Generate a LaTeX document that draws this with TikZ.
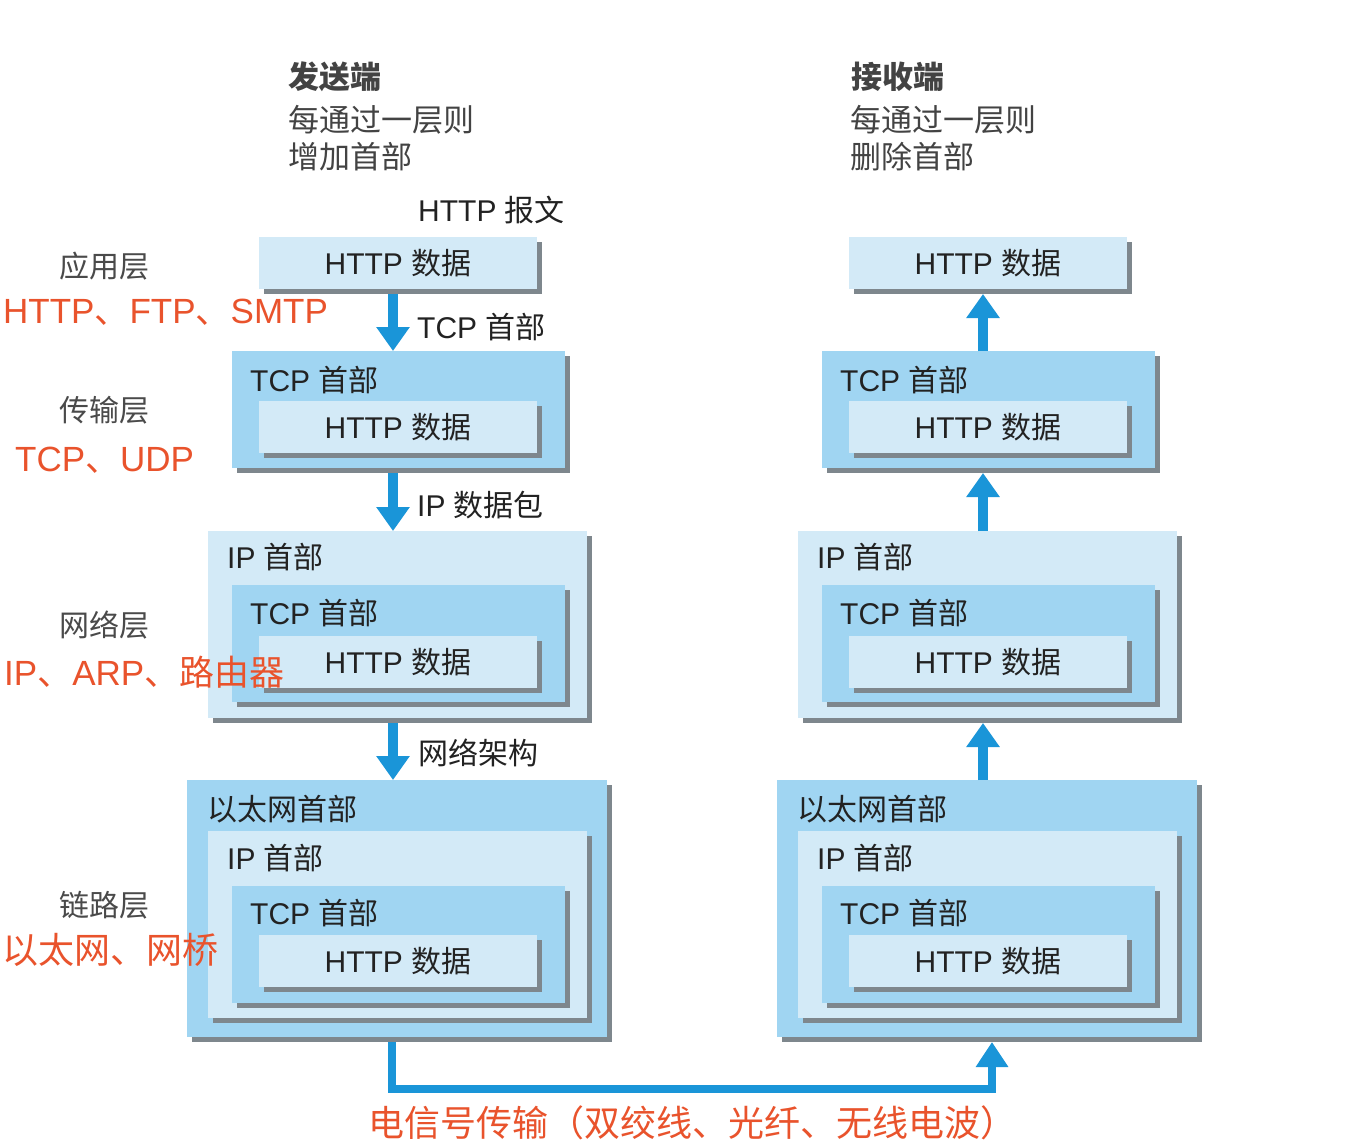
\documentclass[tikz,border=0pt]{standalone}
\usepackage{fontspec}
\setmainfont{Liberation Sans}
\newfontfamily\cjkf{Noto Sans CJK SC}
\newcommand\zh[1]{{\cjkf #1}}
\usetikzlibrary{shadows,arrows.meta}
\definecolor{lblue}{HTML}{D3EAF7}
\definecolor{mblue}{HTML}{A0D5F2}
\definecolor{shgray}{HTML}{7E878D}
\definecolor{ablue}{HTML}{1A95D8}
\definecolor{redtxt}{HTML}{E9532C}
\definecolor{txt}{HTML}{222222}
\definecolor{graytxt}{HTML}{4A4A4A}
\begin{document}
\begin{tikzpicture}[x=1pt,y=-1pt,
  box/.style={draw=none, inner sep=0pt, outer sep=0pt, anchor=north west,
    general shadow={shadow xshift=5pt, shadow yshift=-5pt, fill=shgray}},
  httpbox/.style={box, fill=lblue, minimum width=278pt, minimum height=52pt},
  tcpbox/.style={box, fill=mblue, minimum width=333pt, minimum height=117pt},
  ipbox/.style={box, fill=lblue, minimum width=379pt, minimum height=187pt},
  ethbox/.style={box, fill=mblue, minimum width=420pt, minimum height=257pt},
  boxtxt/.style={inner sep=0pt, text=txt, font=\fontsize{30}{36}\selectfont},
  hdrtxt/.style={boxtxt, anchor=west},
  note/.style={inner sep=0pt, anchor=west, text=txt, font=\fontsize{30}{36}\selectfont},
  top/.style={inner sep=0pt, anchor=west, text=txt!85, font=\fontsize{31}{37}\selectfont},
  layer/.style={inner sep=0pt, text=graytxt, font=\fontsize{30}{36}\selectfont},
  proto/.style={inner sep=0pt, anchor=west, text=redtxt, font=\fontsize{35}{42}\selectfont},
  flow/.style={draw=ablue, line width=10pt, -{Triangle[width=32pt,length=24pt]}},
  link/.style={draw=ablue, line width=8pt, line join=miter, -{Triangle[width=31pt,length=25pt]}}
]
\useasboundingbox[fill=white] (0,0) rectangle (1366,1148);

% header texts
\node[top] (sendT) at (288,77) {\zh{\bfseries 发送端}};
\node[top] (send1) at (288,120) {\zh{每通过一层则}};
\node[top] (send2) at (288,157) {\zh{增加首部}};
\node[top] (recvT) at (851,77) {\zh{\bfseries 接收端}};
\node[top] (recv1) at (850,120) {\zh{每通过一层则}};
\node[top] (recv2) at (850,157) {\zh{删除首部}};
\node[note] (msg) at (418,210) {HTTP \zh{报文}};

% boxes, both columns
\foreach \s/\dx in {l/0,r/590}{
  % application
  \node[httpbox] (\s H1) at (259+\dx,237) {};
  \node[boxtxt] (\s H1t) at (\s H1) {HTTP \zh{数据}};
  % transport
  \node[tcpbox] (\s T2) at (232+\dx,351) {};
  \node[hdrtxt] (\s T2t) at ([shift={(18,29)}]\s T2.north west) {TCP \zh{首部}};
  \node[httpbox] (\s T2h) at ([shift={(27,50)}]\s T2.north west) {};
  \node[boxtxt] (\s T2ht) at (\s T2h) {HTTP \zh{数据}};
  % network
  \node[ipbox] (\s I3) at (208+\dx,531) {};
  \node[hdrtxt] (\s I3t) at ([shift={(19,26)}]\s I3.north west) {IP \zh{首部}};
  \node[tcpbox] (\s I3c) at ([shift={(24,54)}]\s I3.north west) {};
  \node[hdrtxt] (\s I3ct) at ([shift={(18,28)}]\s I3c.north west) {TCP \zh{首部}};
  \node[httpbox] (\s I3h) at ([shift={(27,51)}]\s I3c.north west) {};
  \node[boxtxt] (\s I3ht) at (\s I3h) {HTTP \zh{数据}};
  % link
  \node[ethbox] (\s E4) at (187+\dx,780) {};
  \node[hdrtxt] (\s E4t) at ([shift={(20,29)}]\s E4.north west) {\zh{以太网首部}};
  \node[ipbox] (\s E4i) at ([shift={(21,51)}]\s E4.north west) {};
  \node[hdrtxt] (\s E4it) at ([shift={(19,27)}]\s E4i.north west) {IP \zh{首部}};
  \node[tcpbox] (\s E4c) at ([shift={(24,55)}]\s E4i.north west) {};
  \node[hdrtxt] (\s E4ct) at ([shift={(18,27)}]\s E4c.north west) {TCP \zh{首部}};
  \node[httpbox] (\s E4h) at ([shift={(27,49)}]\s E4c.north west) {};
  \node[boxtxt] (\s E4ht) at (\s E4h) {HTTP \zh{数据}};
}

% sender arrows (down)
\draw[flow] ([xshift=-5pt,yshift=-5pt]lH1.south) -- ([xshift=-5.5pt]lT2.north);
\draw[flow] ([xshift=-5.5pt,yshift=-5pt]lT2.south) -- ([xshift=-4.5pt]lI3.north);
\draw[flow] ([xshift=-4.5pt,yshift=-5pt]lI3.south) -- ([xshift=-4pt]lE4.north);
\node[note] (a1) at (417,327) {TCP \zh{首部}};
\node[note] (a2) at (417,505) {IP \zh{数据包}};
\node[note] (a3) at (418,753) {\zh{网络架构}};

% receiver arrows (up)
\draw[flow] ([xshift=-5.5pt]rT2.north) -- ([xshift=-5pt,yshift=-5pt]rH1.south);
\draw[flow] ([xshift=-4.5pt]rI3.north) -- ([xshift=-5.5pt,yshift=-5pt]rT2.south);
\draw[flow] ([xshift=-4pt]rE4.north) -- ([xshift=-4.5pt,yshift=-5pt]rI3.south);

% physical link
\draw[link] ([xshift=-5pt,yshift=-5pt]lE4.south) -- ++(0,47) -| ([xshift=5pt,yshift=-5pt]rE4.south);

% layer labels
\node[layer] (L1) at (104,266) {\zh{应用层}};
\node[proto] (P1) at (3,312) {HTTP\zh{、}FTP\zh{、}SMTP};
\node[layer] (L2) at (104,410) {\zh{传输层}};
\node[proto] (P2) at (15,460) {TCP\zh{、}UDP};
\node[layer] (L3) at (104,625) {\zh{网络层}};
\node[proto] (P3) at (4,672) {IP\zh{、}ARP\zh{、路由器}};
\node[layer] (L4) at (104,905) {\zh{链路层}};
\node[proto, font=\fontsize{36}{42}\selectfont] (P4) at (2,950) {\zh{以太网、网桥}};

\node[inner sep=0pt, text=redtxt, font=\fontsize{36}{42}\selectfont] (phys) at (692,1123) {\zh{电信号传输（双绞线、光纤、无线电波）}};
\end{tikzpicture}
\end{document}
